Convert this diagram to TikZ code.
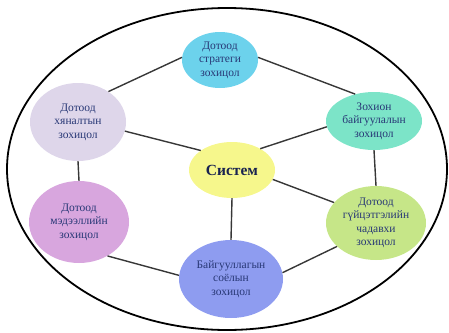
\documentclass[tikz,border=0pt]{standalone}
\usepackage{fontspec}
\setmainfont{Liberation Serif}
\usetikzlibrary{shapes.geometric}
\definecolor{txt}{RGB}{40,56,118}
\definecolor{systxt}{RGB}{25,35,80}
\definecolor{cTop}{RGB}{108,210,236}
\definecolor{cLT}{RGB}{222,214,234}
\definecolor{cRT}{RGB}{124,228,200}
\definecolor{cSys}{RGB}{246,247,140}
\definecolor{cLB}{RGB}{216,166,222}
\definecolor{cRB}{RGB}{198,230,136}
\definecolor{cBot}{RGB}{142,156,240}
\definecolor{lnk}{RGB}{55,55,55}
\tikzset{
  blob/.style={ellipse, draw=none, inner sep=0pt, text=txt, align=center,
    font=\fontsize{11.5}{13.5}\selectfont},
  link/.style={draw=lnk, line width=1.4pt}
}
\begin{document}
\begin{tikzpicture}[x=1pt,y=-1pt]
\useasboundingbox (0,0) rectangle (449,332);
\node[ellipse, draw=black, line width=1.8pt, minimum width=440pt, minimum height=322pt, inner sep=0pt] (outer) at (227,169) {};
\node[blob, fill=cTop, minimum width=76pt, minimum height=56pt] (top) at (220,60) {Дотоод\\стратеги\\зохицол};
\node[blob, fill=cLT, minimum width=96pt, minimum height=78pt] (lt) at (78,122) {Дотоод\\хяналтын\\зохицол};
\node[blob, fill=cRT, minimum width=96pt, minimum height=58pt] (rt) at (374,121) {Зохион\\байгуулалын\\зохицол};
\node[blob, fill=cSys, minimum width=86pt, minimum height=56pt, font=\fontsize{15.5}{17}\selectfont\bfseries, text=systxt] (sys) at (232,170) {Систем};
\node[blob, fill=cLB, minimum width=100pt, minimum height=82pt] (lb) at (79,222) {Дотоод\\мэдээллийн\\зохицол};
\node[blob, fill=cRB, minimum width=100pt, minimum height=74pt] (rb) at (376,223) {Дотоод\\гүйцэтгэлийн\\чадавхи\\зохицол};
\node[blob, fill=cBot, minimum width=104pt, minimum height=78pt] (bot) at (231,279) {Байгууллагын\\соёлын\\зохицол};
\draw[link] (top.176) -- (lt.45);
\draw[link] (top.4) -- (rt.125);
\draw[link] (lt.-11) -- (sys.148);
\draw[link] (rt.187) -- (sys.37);
\draw[link] (sys.-13) -- (rb.154);
\draw[link] (lt.south) -- (lb.north);
\draw[link] (rt.south) -- (rb.north);
\draw[link] (sys.south) -- (bot.north);
\draw[link] (lb.-50) -- (bot.176);
\draw[link] (rb.211) -- (bot.7);
\end{tikzpicture}
\end{document}
